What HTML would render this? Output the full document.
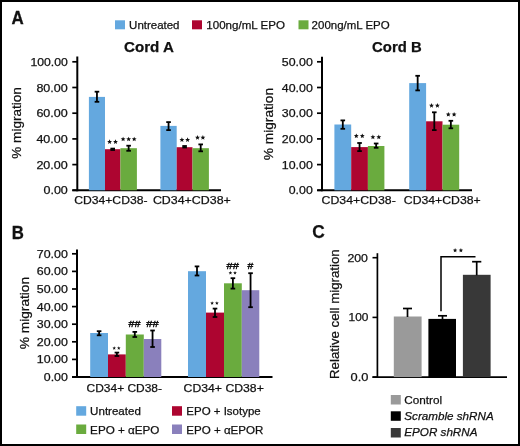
<!DOCTYPE html>
<html><head><meta charset="utf-8"><style>
html,body{margin:0;padding:0;background:#fff;}
#f{position:relative;width:520px;height:446px;overflow:hidden;background:#fff;}
svg{position:absolute;left:0;top:0;will-change:transform;}
svg text{font-family:"Liberation Sans",sans-serif;fill:#111;stroke:#111;stroke-width:0.25px;}
svg text.big{stroke-width:0.3px;}
svg text.hash{stroke-width:0.45px;}
</style></head><body><div id="f">
<svg width="520" height="446" viewBox="0 0 520 446">
<rect x="1" y="1" width="518" height="444" fill="none" stroke="#000" stroke-width="2"/>
<rect x="115.00" y="20.30" width="10.00" height="9.00" fill="#64a8df"/>
<rect x="192.00" y="20.30" width="10.00" height="9.00" fill="#ad0530"/>
<rect x="298.50" y="20.30" width="10.00" height="9.00" fill="#6aab3e"/>
<line x1="77.30" y1="56.50" x2="77.30" y2="191.30" stroke="#000" stroke-width="2.0"/>
<line x1="72.30" y1="190.30" x2="77.30" y2="190.30" stroke="#000" stroke-width="1.7"/>
<line x1="72.30" y1="164.60" x2="77.30" y2="164.60" stroke="#000" stroke-width="1.7"/>
<line x1="72.30" y1="138.90" x2="77.30" y2="138.90" stroke="#000" stroke-width="1.7"/>
<line x1="72.30" y1="113.20" x2="77.30" y2="113.20" stroke="#000" stroke-width="1.7"/>
<line x1="72.30" y1="87.50" x2="77.30" y2="87.50" stroke="#000" stroke-width="1.7"/>
<line x1="72.30" y1="61.80" x2="77.30" y2="61.80" stroke="#000" stroke-width="1.7"/>
<line x1="72.30" y1="190.30" x2="221.00" y2="190.30" stroke="#000" stroke-width="2"/>
<rect x="88.90" y="96.90" width="16.10" height="93.40" fill="#64a8df"/>
<line x1="96.95" y1="91.70" x2="96.95" y2="101.80" stroke="#000" stroke-width="1.8"/>
<line x1="94.65" y1="91.70" x2="99.25" y2="91.70" stroke="#000" stroke-width="1.8"/>
<line x1="94.65" y1="101.80" x2="99.25" y2="101.80" stroke="#000" stroke-width="1.8"/>
<rect x="105.00" y="149.20" width="15.40" height="41.10" fill="#ad0530"/>
<line x1="112.70" y1="148.60" x2="112.70" y2="150.00" stroke="#000" stroke-width="1.8"/>
<line x1="110.40" y1="148.60" x2="115.00" y2="148.60" stroke="#000" stroke-width="1.8"/>
<line x1="110.40" y1="150.00" x2="115.00" y2="150.00" stroke="#000" stroke-width="1.8"/>
<rect x="120.40" y="148.20" width="16.50" height="42.10" fill="#6aab3e"/>
<line x1="128.65" y1="145.70" x2="128.65" y2="150.80" stroke="#000" stroke-width="1.8"/>
<line x1="126.35" y1="145.70" x2="130.95" y2="145.70" stroke="#000" stroke-width="1.8"/>
<line x1="126.35" y1="150.80" x2="130.95" y2="150.80" stroke="#000" stroke-width="1.8"/>
<rect x="160.40" y="125.90" width="16.30" height="64.40" fill="#64a8df"/>
<line x1="168.55" y1="122.10" x2="168.55" y2="130.10" stroke="#000" stroke-width="1.8"/>
<line x1="166.25" y1="122.10" x2="170.85" y2="122.10" stroke="#000" stroke-width="1.8"/>
<line x1="166.25" y1="130.10" x2="170.85" y2="130.10" stroke="#000" stroke-width="1.8"/>
<rect x="176.70" y="147.20" width="15.80" height="43.10" fill="#ad0530"/>
<line x1="184.60" y1="146.00" x2="184.60" y2="147.50" stroke="#000" stroke-width="1.8"/>
<line x1="182.30" y1="146.00" x2="186.90" y2="146.00" stroke="#000" stroke-width="1.8"/>
<line x1="182.30" y1="147.50" x2="186.90" y2="147.50" stroke="#000" stroke-width="1.8"/>
<rect x="192.50" y="148.20" width="16.40" height="42.10" fill="#6aab3e"/>
<line x1="200.70" y1="144.40" x2="200.70" y2="151.30" stroke="#000" stroke-width="1.8"/>
<line x1="198.40" y1="144.40" x2="203.00" y2="144.40" stroke="#000" stroke-width="1.8"/>
<line x1="198.40" y1="151.30" x2="203.00" y2="151.30" stroke="#000" stroke-width="1.8"/>
<polygon points="109.60,139.35 110.28,140.97 112.03,141.11 110.69,142.26 111.10,143.96 109.60,143.05 108.10,143.96 108.51,142.26 107.17,141.11 108.92,140.97" fill="#111"/>
<polygon points="115.50,139.35 116.18,140.97 117.93,141.11 116.59,142.26 117.00,143.96 115.50,143.05 114.00,143.96 114.41,142.26 113.07,141.11 114.82,140.97" fill="#111"/>
<polygon points="123.10,136.65 123.78,138.27 125.53,138.41 124.19,139.56 124.60,141.26 123.10,140.35 121.60,141.26 122.01,139.56 120.67,138.41 122.42,138.27" fill="#111"/>
<polygon points="128.65,136.65 129.33,138.27 131.08,138.41 129.74,139.56 130.15,141.26 128.65,140.35 127.15,141.26 127.56,139.56 126.22,138.41 127.97,138.27" fill="#111"/>
<polygon points="134.20,136.65 134.88,138.27 136.63,138.41 135.29,139.56 135.70,141.26 134.20,140.35 132.70,141.26 133.11,139.56 131.77,138.41 133.52,138.27" fill="#111"/>
<polygon points="181.90,137.35 182.58,138.97 184.33,139.11 182.99,140.26 183.40,141.96 181.90,141.05 180.40,141.96 180.81,140.26 179.47,139.11 181.22,138.97" fill="#111"/>
<polygon points="187.60,137.35 188.28,138.97 190.03,139.11 188.69,140.26 189.10,141.96 187.60,141.05 186.10,141.96 186.51,140.26 185.17,139.11 186.92,138.97" fill="#111"/>
<polygon points="197.50,135.05 198.18,136.67 199.93,136.81 198.59,137.96 199.00,139.66 197.50,138.75 196.00,139.66 196.41,137.96 195.07,136.81 196.82,136.67" fill="#111"/>
<polygon points="202.90,135.05 203.58,136.67 205.33,136.81 203.99,137.96 204.40,139.66 202.90,138.75 201.40,139.66 201.81,137.96 200.47,136.81 202.22,136.67" fill="#111"/>
<line x1="322.00" y1="56.70" x2="322.00" y2="191.30" stroke="#000" stroke-width="2.0"/>
<line x1="317.00" y1="190.30" x2="322.00" y2="190.30" stroke="#000" stroke-width="1.7"/>
<line x1="317.00" y1="164.60" x2="322.00" y2="164.60" stroke="#000" stroke-width="1.7"/>
<line x1="317.00" y1="138.90" x2="322.00" y2="138.90" stroke="#000" stroke-width="1.7"/>
<line x1="317.00" y1="113.20" x2="322.00" y2="113.20" stroke="#000" stroke-width="1.7"/>
<line x1="317.00" y1="87.50" x2="322.00" y2="87.50" stroke="#000" stroke-width="1.7"/>
<line x1="317.00" y1="61.80" x2="322.00" y2="61.80" stroke="#000" stroke-width="1.7"/>
<line x1="317.30" y1="190.30" x2="472.00" y2="190.30" stroke="#000" stroke-width="2"/>
<rect x="334.40" y="124.50" width="16.80" height="65.80" fill="#64a8df"/>
<line x1="342.80" y1="120.40" x2="342.80" y2="128.80" stroke="#000" stroke-width="1.8"/>
<line x1="340.50" y1="120.40" x2="345.10" y2="120.40" stroke="#000" stroke-width="1.8"/>
<line x1="340.50" y1="128.80" x2="345.10" y2="128.80" stroke="#000" stroke-width="1.8"/>
<rect x="351.20" y="147.10" width="16.70" height="43.20" fill="#ad0530"/>
<line x1="359.55" y1="143.00" x2="359.55" y2="151.10" stroke="#000" stroke-width="1.8"/>
<line x1="357.25" y1="143.00" x2="361.85" y2="143.00" stroke="#000" stroke-width="1.8"/>
<line x1="357.25" y1="151.10" x2="361.85" y2="151.10" stroke="#000" stroke-width="1.8"/>
<rect x="367.90" y="146.00" width="16.50" height="44.30" fill="#6aab3e"/>
<line x1="376.15" y1="143.50" x2="376.15" y2="147.80" stroke="#000" stroke-width="1.8"/>
<line x1="373.85" y1="143.50" x2="378.45" y2="143.50" stroke="#000" stroke-width="1.8"/>
<line x1="373.85" y1="147.80" x2="378.45" y2="147.80" stroke="#000" stroke-width="1.8"/>
<rect x="409.20" y="83.10" width="16.90" height="107.20" fill="#64a8df"/>
<line x1="417.65" y1="75.80" x2="417.65" y2="90.40" stroke="#000" stroke-width="1.8"/>
<line x1="415.35" y1="75.80" x2="419.95" y2="75.80" stroke="#000" stroke-width="1.8"/>
<line x1="415.35" y1="90.40" x2="419.95" y2="90.40" stroke="#000" stroke-width="1.8"/>
<rect x="426.10" y="121.30" width="16.40" height="69.00" fill="#ad0530"/>
<line x1="434.30" y1="112.30" x2="434.30" y2="130.10" stroke="#000" stroke-width="1.8"/>
<line x1="432.00" y1="112.30" x2="436.60" y2="112.30" stroke="#000" stroke-width="1.8"/>
<line x1="432.00" y1="130.10" x2="436.60" y2="130.10" stroke="#000" stroke-width="1.8"/>
<rect x="442.50" y="124.70" width="16.70" height="65.60" fill="#6aab3e"/>
<line x1="450.85" y1="120.80" x2="450.85" y2="128.30" stroke="#000" stroke-width="1.8"/>
<line x1="448.55" y1="120.80" x2="453.15" y2="120.80" stroke="#000" stroke-width="1.8"/>
<line x1="448.55" y1="128.30" x2="453.15" y2="128.30" stroke="#000" stroke-width="1.8"/>
<polygon points="356.30,133.45 356.98,135.07 358.73,135.21 357.39,136.36 357.80,138.06 356.30,137.15 354.80,138.06 355.21,136.36 353.87,135.21 355.62,135.07" fill="#111"/>
<polygon points="362.30,133.45 362.98,135.07 364.73,135.21 363.39,136.36 363.80,138.06 362.30,137.15 360.80,138.06 361.21,136.36 359.87,135.21 361.62,135.07" fill="#111"/>
<polygon points="372.90,134.55 373.58,136.17 375.33,136.31 373.99,137.46 374.40,139.16 372.90,138.25 371.40,139.16 371.81,137.46 370.47,136.31 372.22,136.17" fill="#111"/>
<polygon points="378.80,134.55 379.48,136.17 381.23,136.31 379.89,137.46 380.30,139.16 378.80,138.25 377.30,139.16 377.71,137.46 376.37,136.31 378.12,136.17" fill="#111"/>
<polygon points="431.50,103.05 432.18,104.67 433.93,104.81 432.59,105.96 433.00,107.66 431.50,106.75 430.00,107.66 430.41,105.96 429.07,104.81 430.82,104.67" fill="#111"/>
<polygon points="437.40,103.05 438.08,104.67 439.83,104.81 438.49,105.96 438.90,107.66 437.40,106.75 435.90,107.66 436.31,105.96 434.97,104.81 436.72,104.67" fill="#111"/>
<polygon points="448.30,111.95 448.98,113.57 450.73,113.71 449.39,114.86 449.80,116.56 448.30,115.65 446.80,116.56 447.21,114.86 445.87,113.71 447.62,113.57" fill="#111"/>
<polygon points="454.10,111.95 454.78,113.57 456.53,113.71 455.19,114.86 455.60,116.56 454.10,115.65 452.60,116.56 453.01,114.86 451.67,113.71 453.42,113.57" fill="#111"/>
<line x1="77.00" y1="249.50" x2="77.00" y2="378.00" stroke="#000" stroke-width="2.0"/>
<line x1="72.00" y1="377.00" x2="77.00" y2="377.00" stroke="#000" stroke-width="1.7"/>
<line x1="72.00" y1="359.40" x2="77.00" y2="359.40" stroke="#000" stroke-width="1.7"/>
<line x1="72.00" y1="341.80" x2="77.00" y2="341.80" stroke="#000" stroke-width="1.7"/>
<line x1="72.00" y1="324.20" x2="77.00" y2="324.20" stroke="#000" stroke-width="1.7"/>
<line x1="72.00" y1="306.60" x2="77.00" y2="306.60" stroke="#000" stroke-width="1.7"/>
<line x1="72.00" y1="289.00" x2="77.00" y2="289.00" stroke="#000" stroke-width="1.7"/>
<line x1="72.00" y1="271.40" x2="77.00" y2="271.40" stroke="#000" stroke-width="1.7"/>
<line x1="72.00" y1="253.80" x2="77.00" y2="253.80" stroke="#000" stroke-width="1.7"/>
<line x1="72.10" y1="377.00" x2="272.50" y2="377.00" stroke="#000" stroke-width="2"/>
<rect x="90.20" y="333.00" width="17.80" height="44.00" fill="#64a8df"/>
<line x1="99.10" y1="331.20" x2="99.10" y2="335.30" stroke="#000" stroke-width="1.8"/>
<line x1="96.80" y1="331.20" x2="101.40" y2="331.20" stroke="#000" stroke-width="1.8"/>
<line x1="96.80" y1="335.30" x2="101.40" y2="335.30" stroke="#000" stroke-width="1.8"/>
<rect x="108.00" y="354.40" width="17.80" height="22.60" fill="#ad0530"/>
<line x1="116.90" y1="352.60" x2="116.90" y2="356.00" stroke="#000" stroke-width="1.8"/>
<line x1="114.60" y1="352.60" x2="119.20" y2="352.60" stroke="#000" stroke-width="1.8"/>
<line x1="114.60" y1="356.00" x2="119.20" y2="356.00" stroke="#000" stroke-width="1.8"/>
<rect x="125.80" y="334.50" width="18.00" height="42.50" fill="#6aab3e"/>
<line x1="134.80" y1="331.90" x2="134.80" y2="337.00" stroke="#000" stroke-width="1.8"/>
<line x1="132.50" y1="331.90" x2="137.10" y2="331.90" stroke="#000" stroke-width="1.8"/>
<line x1="132.50" y1="337.00" x2="137.10" y2="337.00" stroke="#000" stroke-width="1.8"/>
<rect x="143.80" y="339.00" width="17.50" height="38.00" fill="#8a80bc"/>
<line x1="152.55" y1="330.50" x2="152.55" y2="347.00" stroke="#000" stroke-width="1.8"/>
<line x1="150.25" y1="330.50" x2="154.85" y2="330.50" stroke="#000" stroke-width="1.8"/>
<line x1="150.25" y1="347.00" x2="154.85" y2="347.00" stroke="#000" stroke-width="1.8"/>
<rect x="188.00" y="271.20" width="18.00" height="105.80" fill="#64a8df"/>
<line x1="197.00" y1="266.40" x2="197.00" y2="275.50" stroke="#000" stroke-width="1.8"/>
<line x1="194.70" y1="266.40" x2="199.30" y2="266.40" stroke="#000" stroke-width="1.8"/>
<line x1="194.70" y1="275.50" x2="199.30" y2="275.50" stroke="#000" stroke-width="1.8"/>
<rect x="206.00" y="312.60" width="18.00" height="64.40" fill="#ad0530"/>
<line x1="215.00" y1="308.60" x2="215.00" y2="317.00" stroke="#000" stroke-width="1.8"/>
<line x1="212.70" y1="308.60" x2="217.30" y2="308.60" stroke="#000" stroke-width="1.8"/>
<line x1="212.70" y1="317.00" x2="217.30" y2="317.00" stroke="#000" stroke-width="1.8"/>
<rect x="224.00" y="283.30" width="17.80" height="93.70" fill="#6aab3e"/>
<line x1="232.90" y1="278.20" x2="232.90" y2="288.60" stroke="#000" stroke-width="1.8"/>
<line x1="230.60" y1="278.20" x2="235.20" y2="278.20" stroke="#000" stroke-width="1.8"/>
<line x1="230.60" y1="288.60" x2="235.20" y2="288.60" stroke="#000" stroke-width="1.8"/>
<rect x="241.80" y="290.20" width="17.50" height="86.80" fill="#8a80bc"/>
<line x1="250.55" y1="273.20" x2="250.55" y2="307.20" stroke="#000" stroke-width="1.8"/>
<line x1="248.25" y1="273.20" x2="252.85" y2="273.20" stroke="#000" stroke-width="1.8"/>
<line x1="248.25" y1="307.20" x2="252.85" y2="307.20" stroke="#000" stroke-width="1.8"/>
<polygon points="114.20,346.20 114.70,347.41 116.01,347.51 115.01,348.36 115.32,349.64 114.20,348.95 113.08,349.64 113.39,348.36 112.39,347.51 113.70,347.41" fill="#111"/>
<polygon points="118.80,346.20 119.30,347.41 120.61,347.51 119.61,348.36 119.92,349.64 118.80,348.95 117.68,349.64 117.99,348.36 116.99,347.51 118.30,347.41" fill="#111"/>
<polygon points="212.10,301.30 212.60,302.51 213.91,302.61 212.91,303.46 213.22,304.74 212.10,304.05 210.98,304.74 211.29,303.46 210.29,302.61 211.60,302.51" fill="#111"/>
<polygon points="216.90,301.30 217.40,302.51 218.71,302.61 217.71,303.46 218.02,304.74 216.90,304.05 215.78,304.74 216.09,303.46 215.09,302.61 216.40,302.51" fill="#111"/>
<polygon points="230.40,271.00 230.90,272.21 232.21,272.31 231.21,273.16 231.52,274.44 230.40,273.75 229.28,274.44 229.59,273.16 228.59,272.31 229.90,272.21" fill="#111"/>
<polygon points="235.00,271.00 235.50,272.21 236.81,272.31 235.81,273.16 236.12,274.44 235.00,273.75 233.88,274.44 234.19,273.16 233.19,272.31 234.50,272.21" fill="#111"/>
<rect x="76.20" y="406.20" width="10.00" height="9.50" fill="#64a8df"/>
<rect x="172.00" y="406.20" width="10.00" height="9.50" fill="#ad0530"/>
<rect x="76.20" y="424.50" width="10.00" height="9.50" fill="#6aab3e"/>
<rect x="172.00" y="424.50" width="10.00" height="9.50" fill="#8a80bc"/>
<line x1="377.40" y1="253.20" x2="377.40" y2="378.00" stroke="#000" stroke-width="1.7"/>
<line x1="372.50" y1="377.10" x2="507.00" y2="377.10" stroke="#000" stroke-width="1.9"/>
<line x1="372.50" y1="377.10" x2="377.40" y2="377.10" stroke="#000" stroke-width="1.6"/>
<line x1="372.50" y1="317.40" x2="377.40" y2="317.40" stroke="#000" stroke-width="1.6"/>
<line x1="372.50" y1="257.70" x2="377.40" y2="257.70" stroke="#000" stroke-width="1.6"/>
<rect x="393.80" y="316.50" width="27.80" height="60.60" fill="#9a9a9a"/>
<line x1="407.50" y1="308.50" x2="407.50" y2="317.00" stroke="#000" stroke-width="1.7"/>
<line x1="403.00" y1="308.50" x2="412.00" y2="308.50" stroke="#000" stroke-width="1.7"/>
<rect x="428.40" y="318.90" width="27.60" height="58.20" fill="#000"/>
<line x1="442.50" y1="315.80" x2="442.50" y2="319.40" stroke="#000" stroke-width="1.7"/>
<line x1="438.00" y1="315.80" x2="447.00" y2="315.80" stroke="#000" stroke-width="1.7"/>
<rect x="462.90" y="274.80" width="27.70" height="102.30" fill="#383838"/>
<line x1="476.70" y1="261.70" x2="476.70" y2="275.30" stroke="#000" stroke-width="1.7"/>
<line x1="472.10" y1="261.70" x2="481.30" y2="261.70" stroke="#000" stroke-width="1.7"/>
<polyline points="441,311.3 441,256.8 475.5,256.8" fill="none" stroke="#000" stroke-width="1.5"/>
<polygon points="455.10,248.10 455.69,249.59 457.29,249.69 456.05,250.71 456.45,252.26 455.10,251.40 453.75,252.26 454.15,250.71 452.91,249.69 454.51,249.59" fill="#111"/>
<polygon points="460.90,248.10 461.49,249.59 463.09,249.69 461.85,250.71 462.25,252.26 460.90,251.40 459.55,252.26 459.95,250.71 458.71,249.69 460.31,249.59" fill="#111"/>
<rect x="390.80" y="395.00" width="10.00" height="9.50" fill="#9a9a9a"/>
<rect x="390.80" y="411.30" width="10.00" height="9.50" fill="#000"/>
<rect x="390.80" y="428.00" width="10.00" height="9.50" fill="#383838"/>
<text class="big" x="11.60" y="24.10" font-size="18" font-weight="bold" font-style="normal" textLength="12.20" lengthAdjust="spacingAndGlyphs">A</text>
<text class="big" x="11.78" y="238.50" font-size="17.5" font-weight="bold" font-style="normal" textLength="12.12" lengthAdjust="spacingAndGlyphs">B</text>
<text x="312.24" y="238.20" font-size="19" font-weight="bold" font-style="normal" textLength="12.52" lengthAdjust="spacingAndGlyphs">C</text>
<text x="129.13" y="29.20" font-size="11.2" font-weight="normal" font-style="normal" textLength="50.34" lengthAdjust="spacingAndGlyphs">Untreated</text>
<text x="206.33" y="29.20" font-size="11.2" font-weight="normal" font-style="normal" textLength="78.54" lengthAdjust="spacingAndGlyphs">100ng/mL EPO</text>
<text x="311.63" y="29.20" font-size="11.2" font-weight="normal" font-style="normal" textLength="78.04" lengthAdjust="spacingAndGlyphs">200ng/mL EPO</text>
<text x="43.47" y="194.30" font-size="11.3" font-weight="normal" font-style="normal" textLength="24.31" lengthAdjust="spacingAndGlyphs">0.00</text>
<text x="36.42" y="168.60" font-size="11.3" font-weight="normal" font-style="normal" textLength="31.36" lengthAdjust="spacingAndGlyphs">20.00</text>
<text x="36.42" y="142.90" font-size="11.3" font-weight="normal" font-style="normal" textLength="31.36" lengthAdjust="spacingAndGlyphs">40.00</text>
<text x="36.42" y="117.20" font-size="11.3" font-weight="normal" font-style="normal" textLength="31.36" lengthAdjust="spacingAndGlyphs">60.00</text>
<text x="36.42" y="91.50" font-size="11.3" font-weight="normal" font-style="normal" textLength="31.36" lengthAdjust="spacingAndGlyphs">80.00</text>
<text x="30.42" y="65.80" font-size="11.3" font-weight="normal" font-style="normal" textLength="37.36" lengthAdjust="spacingAndGlyphs">100.00</text>
<text x="288.78" y="194.30" font-size="11.3" font-weight="normal" font-style="normal" textLength="24.00" lengthAdjust="spacingAndGlyphs">0.00</text>
<text x="281.82" y="168.60" font-size="11.3" font-weight="normal" font-style="normal" textLength="30.96" lengthAdjust="spacingAndGlyphs">10.00</text>
<text x="281.82" y="142.90" font-size="11.3" font-weight="normal" font-style="normal" textLength="30.96" lengthAdjust="spacingAndGlyphs">20.00</text>
<text x="281.82" y="117.20" font-size="11.3" font-weight="normal" font-style="normal" textLength="30.96" lengthAdjust="spacingAndGlyphs">30.00</text>
<text x="281.82" y="91.50" font-size="11.3" font-weight="normal" font-style="normal" textLength="30.96" lengthAdjust="spacingAndGlyphs">40.00</text>
<text x="281.82" y="65.80" font-size="11.3" font-weight="normal" font-style="normal" textLength="30.96" lengthAdjust="spacingAndGlyphs">50.00</text>
<text x="124.13" y="52.30" font-size="14.5" font-weight="bold" font-style="normal" textLength="49.74" lengthAdjust="spacingAndGlyphs">Cord A</text>
<text x="372.13" y="51.70" font-size="14.5" font-weight="bold" font-style="normal" textLength="49.54" lengthAdjust="spacingAndGlyphs">Cord B</text>
<text x="74.21" y="204.40" font-size="11.5" font-weight="normal" font-style="normal" textLength="73.28" lengthAdjust="spacingAndGlyphs">CD34+CD38-</text>
<text x="152.91" y="204.40" font-size="11.5" font-weight="normal" font-style="normal" textLength="77.88" lengthAdjust="spacingAndGlyphs">CD34+CD38+</text>
<text x="321.61" y="204.20" font-size="11.5" font-weight="normal" font-style="normal" textLength="74.18" lengthAdjust="spacingAndGlyphs">CD34+CD38-</text>
<text x="403.81" y="204.20" font-size="11.5" font-weight="normal" font-style="normal" textLength="76.88" lengthAdjust="spacingAndGlyphs">CD34+CD38+</text>
<text transform="translate(21.00,158.69) rotate(-90)" x="0" y="0" font-size="13.2" textLength="71.48" lengthAdjust="spacingAndGlyphs">% migration</text>
<text transform="translate(273.30,160.19) rotate(-90)" x="0" y="0" font-size="13.2" textLength="72.28" lengthAdjust="spacingAndGlyphs">% migration</text>
<text x="43.80" y="381.00" font-size="11.3" font-weight="normal" font-style="normal" textLength="24.08" lengthAdjust="spacingAndGlyphs">0.00</text>
<text x="36.82" y="363.40" font-size="11.3" font-weight="normal" font-style="normal" textLength="31.06" lengthAdjust="spacingAndGlyphs">10.00</text>
<text x="36.82" y="345.80" font-size="11.3" font-weight="normal" font-style="normal" textLength="31.06" lengthAdjust="spacingAndGlyphs">20.00</text>
<text x="36.82" y="328.20" font-size="11.3" font-weight="normal" font-style="normal" textLength="31.06" lengthAdjust="spacingAndGlyphs">30.00</text>
<text x="36.82" y="310.60" font-size="11.3" font-weight="normal" font-style="normal" textLength="31.06" lengthAdjust="spacingAndGlyphs">40.00</text>
<text x="36.82" y="293.00" font-size="11.3" font-weight="normal" font-style="normal" textLength="31.06" lengthAdjust="spacingAndGlyphs">50.00</text>
<text x="36.82" y="275.40" font-size="11.3" font-weight="normal" font-style="normal" textLength="31.06" lengthAdjust="spacingAndGlyphs">60.00</text>
<text x="36.82" y="257.80" font-size="11.3" font-weight="normal" font-style="normal" textLength="31.06" lengthAdjust="spacingAndGlyphs">70.00</text>
<text transform="translate(28.60,349.19) rotate(-90)" x="0" y="0" font-size="13.2" textLength="72.28" lengthAdjust="spacingAndGlyphs">% migration</text>
<text class="hash" x="128.61" y="327.30" font-size="9.8" font-weight="normal" font-style="normal" textLength="11.99" lengthAdjust="spacingAndGlyphs">##</text>
<text class="hash" x="146.31" y="327.30" font-size="9.8" font-weight="normal" font-style="normal" textLength="12.29" lengthAdjust="spacingAndGlyphs">##</text>
<text class="hash" x="226.51" y="268.70" font-size="9.8" font-weight="normal" font-style="normal" textLength="12.29" lengthAdjust="spacingAndGlyphs">##</text>
<text class="hash" x="247.41" y="268.70" font-size="9.8" font-weight="normal" font-style="normal" textLength="5.79" lengthAdjust="spacingAndGlyphs">#</text>
<text x="86.61" y="391.80" font-size="11.5" font-weight="normal" font-style="normal" textLength="75.38" lengthAdjust="spacingAndGlyphs">CD34+ CD38-</text>
<text x="183.61" y="391.80" font-size="11.5" font-weight="normal" font-style="normal" textLength="80.18" lengthAdjust="spacingAndGlyphs">CD34+ CD38+</text>
<text x="90.13" y="415.00" font-size="11.2" font-weight="normal" font-style="normal" textLength="50.74" lengthAdjust="spacingAndGlyphs">Untreated</text>
<text x="186.33" y="415.00" font-size="11.2" font-weight="normal" font-style="normal" textLength="74.34" lengthAdjust="spacingAndGlyphs">EPO + Isotype</text>
<text x="90.13" y="433.60" font-size="11.2" font-weight="normal" font-style="normal" textLength="69.34" lengthAdjust="spacingAndGlyphs">EPO + &#945;EPO</text>
<text x="186.33" y="433.60" font-size="11.2" font-weight="normal" font-style="normal" textLength="77.04" lengthAdjust="spacingAndGlyphs">EPO + &#945;EPOR</text>
<text x="350.52" y="381.10" font-size="11.3" font-weight="normal" font-style="normal" textLength="17.86" lengthAdjust="spacingAndGlyphs">0.0</text>
<text x="348.52" y="321.40" font-size="11.3" font-weight="normal" font-style="normal" textLength="19.86" lengthAdjust="spacingAndGlyphs">100</text>
<text x="347.42" y="261.70" font-size="11.3" font-weight="normal" font-style="normal" textLength="20.56" lengthAdjust="spacingAndGlyphs">200</text>
<text transform="translate(338.60,378.98) rotate(-90)" x="0" y="0" font-size="13.0" textLength="129.66" lengthAdjust="spacingAndGlyphs">Relative cell migration</text>
<text x="404.32" y="403.80" font-size="11.3" font-weight="normal" font-style="normal" textLength="37.86" lengthAdjust="spacingAndGlyphs">Control</text>
<text x="404.32" y="420.00" font-size="11.3" font-weight="normal" font-style="italic" textLength="89.36" lengthAdjust="spacingAndGlyphs">Scramble shRNA</text>
<text x="404.32" y="436.30" font-size="11.3" font-weight="normal" font-style="italic" textLength="73.16" lengthAdjust="spacingAndGlyphs">EPOR shRNA</text>
</svg></div></body></html>
